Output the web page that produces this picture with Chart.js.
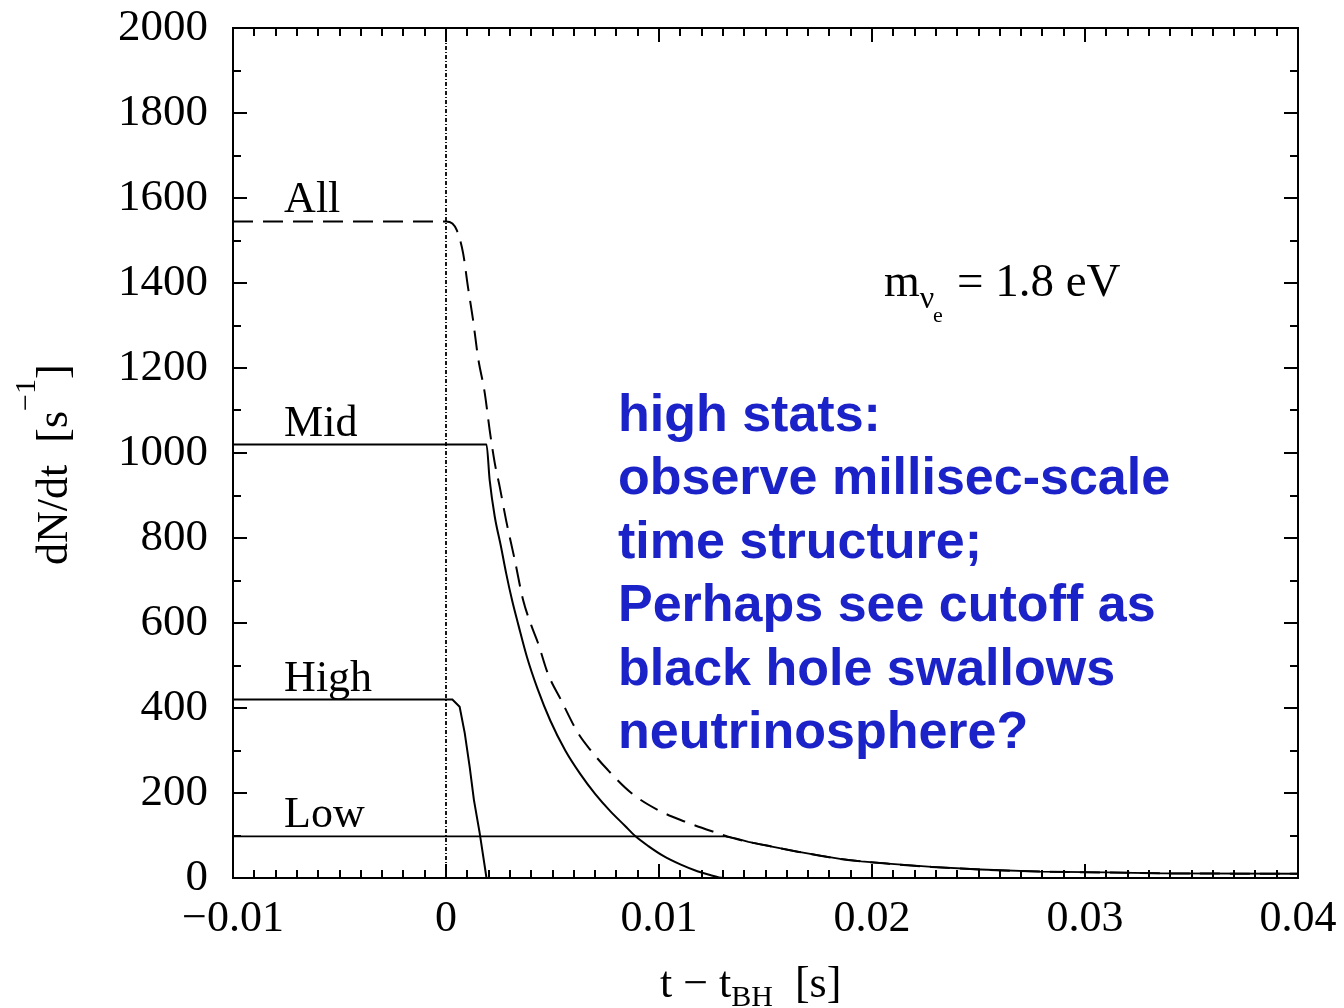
<!DOCTYPE html>
<html>
<head>
<meta charset="utf-8">
<script src="https://cdn.jsdelivr.net/npm/chart.js@4.4.0/dist/chart.umd.min.js"></script>
<style>
	html, body { margin: 0; padding: 0; background: #fff; }
	canvas { display: block; }
</style>
</head>
<body>
<canvas id="mycanvas" width="1344" height="1008"></canvas>
<script>
// t - t_BH [s] and dN/dt [1/s]
var allT = [-0.01, 0, 0.0003, 0.0005, 0.0008, 0.00103, 0.00127, 0.0015, 0.00182, 0.00205, 0.00229, 0.00252, 0.00282, 0.00323, 0.00362, 0.004, 0.00432, 0.00479, 0.0054, 0.0062, 0.0068, 0.0076, 0.0087, 0.00995, 0.0112, 0.0126, 0.0134, 0.0142, 0.0153, 0.0165, 0.0175, 0.0185, 0.0195, 0.0209, 0.0228, 0.0251, 0.0279, 0.031, 0.0336, 0.04];
var allN = [1545, 1545, 1540, 1525, 1471, 1391, 1313, 1226, 1141, 1054, 976, 921, 842, 748, 654, 595, 553, 480, 419, 341, 300, 254, 200, 160, 133, 108, 95, 85, 74, 62, 53, 45, 39, 33, 26, 20, 15, 13, 11, 10];

var midT = [-0.01, 0.0019, 0.00205, 0.00229, 0.00258, 0.00282, 0.0031, 0.0034, 0.0038, 0.0043, 0.0049, 0.0056, 0.0063, 0.007, 0.0077, 0.0084, 0.0089, 0.0095, 0.0102, 0.011, 0.0118, 0.0124, 0.013, 0.0135];
var midN = [1020, 1020, 936, 850, 780, 718, 654, 595, 520, 445, 370, 300, 245, 198, 158, 123, 98, 75, 52, 32, 16, 7, 0, 0];

var highT = [-0.01, 0.0003, 0.00064, 0.00088, 0.00111, 0.00131, 0.00158, 0.00182, 0.0019];
var highN = [420, 420, 403, 341, 262, 184, 106, 27, 0];

var lowT = [-0.01, 0.0131, 0.0136, 0.0142, 0.0153, 0.0165, 0.0175, 0.0185, 0.0195, 0.0209, 0.0228, 0.0251, 0.0279, 0.031, 0.0336, 0.04];
var lowN = [98, 98, 93, 85, 74, 62, 53, 45, 39, 33, 26, 20, 15, 13, 11, 10];

var cutT = [0, 0];
var cutN = [0, 2000];

var curveNames = ['All', 'Mid', 'High', 'Low'];
var curveLevels = [1545, 1020, 420, 98];

var noteLines = ['high stats:', 'observe millisec-scale', 'time structure;', 'Perhaps see cutoff as', 'black hole swallows', 'neutrinosphere?'];

var SERIF = "'Liberation Serif', 'Times New Roman', serif";
var SANS = "'Liberation Sans', Arial, sans-serif";

function toPoints(t, n) {
	var pts = [];
	for (var i = 0; i < t.length; i++) {
		pts.push({x: t[i], y: n[i]});
	}
	return pts;
}

// draw a run of text pieces with sub/superscripts, starting at (x, y)
function drawPieces(ctx, pieces, x, y) {
	for (var i = 0; i < pieces.length; i++) {
		var p = pieces[i];
		ctx.font = p.size + 'px ' + SERIF;
		ctx.fillText(p.text, x, y + (p.dy || 0));
		x += ctx.measureText(p.text).width;
	}
}

var framePlugin = {
	id: 'frame',
	afterDatasetsDraw: function(chart) {
		var ctx = chart.ctx;
		var a = chart.chartArea;
		var xs = chart.scales.x;
		var ys = chart.scales.y;
		ctx.save();
		ctx.strokeStyle = '#000';
		ctx.lineWidth = 2;
		ctx.strokeRect(a.left, a.top, a.right - a.left, a.bottom - a.top);
		ctx.beginPath();
		for (var i = -10; i <= 40; i++) {
			var px = Math.round(xs.getPixelForValue(i / 1000));
			var len = (i % 10 === 0) ? 14 : 8;
			ctx.moveTo(px, a.bottom);
			ctx.lineTo(px, a.bottom - len);
			ctx.moveTo(px, a.top);
			ctx.lineTo(px, a.top + len);
		}
		for (var v = 0; v <= 2000; v += 100) {
			var py = Math.round(ys.getPixelForValue(v));
			var l = (v % 200 === 0) ? 14 : 8;
			ctx.moveTo(a.left, py);
			ctx.lineTo(a.left + l, py);
			ctx.moveTo(a.right, py);
			ctx.lineTo(a.right - l, py);
		}
		ctx.stroke();
		ctx.restore();
	},
	afterDraw: function(chart) {
		var ctx = chart.ctx;
		var xs = chart.scales.x;
		var ys = chart.scales.y;
		ctx.save();
		ctx.fillStyle = '#000';
		ctx.textAlign = 'left';
		ctx.textBaseline = 'alphabetic';

		// curve names
		ctx.font = '44px ' + SERIF;
		for (var i = 0; i < curveNames.length; i++) {
			ctx.fillText(curveNames[i], xs.getPixelForValue(-0.0076), ys.getPixelForValue(curveLevels[i]) - 9);
		}

		// neutrino mass
		drawPieces(ctx, [
			{text: 'm', size: 46},
			{text: '\u03bd', size: 32, dy: 12}
		], 884, 296);
		drawPieces(ctx, [{text: 'e', size: 22}], 933, 322);
		drawPieces(ctx, [{text: '= 1.8 eV', size: 47}], 957, 296);

		// x title
		drawPieces(ctx, [
			{text: 't \u2212 t', size: 44},
			{text: 'BH', size: 30, dy: 9},
			{text: '  [s]', size: 44}
		], 660, 997);

		// y title, rotated
		ctx.save();
		ctx.translate(67, 565);
		ctx.rotate(-Math.PI / 2);
		drawPieces(ctx, [
			{text: 'dN/dt  [s', size: 44},
			{text: '\u22121', size: 30, dy: -32},
			{text: ']', size: 44}
		], 0, 0);
		ctx.restore();

		// blue note
		ctx.fillStyle = 'rgb(26, 34, 200)';
		ctx.font = 'bold 52px ' + SANS;
		for (var k = 0; k < noteLines.length; k++) {
			ctx.fillText(noteLines[k], 618, 431 + k * 63.4);
		}
		ctx.restore();
	}
};

var ctx = document.getElementById('mycanvas');

var myChart = new Chart(ctx, {
	type: 'line',
	data: {
		datasets: [
			{label: 'Low', data: toPoints(lowT, lowN), borderColor: '#000', borderWidth: 1.8},
			{label: 'High', data: toPoints(highT, highN), borderColor: '#000', borderWidth: 2},
			{label: 'Mid', data: toPoints(midT, midN), borderColor: '#000', borderWidth: 2, cubicInterpolationMode: 'monotone'},
			{label: 'All', data: toPoints(allT, allN), borderColor: '#000', borderWidth: 2, borderDash: [20, 10], cubicInterpolationMode: 'monotone'},
			{label: 'cut', data: toPoints(cutT, cutN), borderColor: '#000', borderWidth: 1.8, borderDash: [4, 2, 1, 2]}
		]
	},
	options: {
		responsive: false,
		animation: false,
		layout: {padding: {top: 28, right: 46, left: 0, bottom: 0}},
		elements: {
			point: {radius: 0},
			line: {tension: 0, fill: false}
		},
		plugins: {
			legend: {display: false},
			tooltip: {enabled: false}
		},
		scales: {
			x: {
				type: 'linear',
				min: -0.01,
				max: 0.04,
				grid: {display: false},
				border: {display: false},
				ticks: {
					stepSize: 0.01,
					padding: 7,
					maxRotation: 0,
					autoSkip: false,
					color: '#000',
					font: {family: SERIF, size: 44},
					callback: function(v) {
						var r = Math.round(v * 100) / 100;
						if (r === 0) return '0';
						return (r < 0 ? '\u2212' : '') + Math.abs(r);
					}
				},
				afterFit: function(s) {
					s.height = 130;
					s.paddingLeft = 0;
					s.paddingRight = 0;
				}
			},
			y: {
				min: 0,
				max: 2000,
				grid: {display: false},
				border: {display: false},
				ticks: {
					stepSize: 200,
					padding: 17,
					color: '#000',
					font: {family: SERIF, size: 45},
					callback: function(v) { return String(v); }
				},
				afterFit: function(s) {
					s.width = 233;
					s.paddingTop = 0;
					s.paddingBottom = 0;
				}
			}
		}
	},
	plugins: [framePlugin]
});
</script>
</body>
</html>
